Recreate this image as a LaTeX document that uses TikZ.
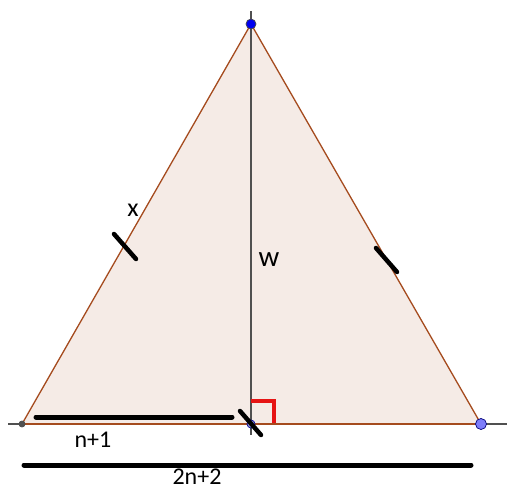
\documentclass[tikz,border=0pt]{standalone}
\usepackage{fontspec}
\setmainfont{Carlito}
\definecolor{tfill}{RGB}{245,235,230}
\definecolor{tedge}{RGB}{165,75,30}
\definecolor{lgray}{RGB}{80,80,80}
\definecolor{ptblue}{RGB}{0,0,240}
\definecolor{ptlight}{RGB}{125,125,250}
\definecolor{ptfoot}{RGB}{150,150,215}
\definecolor{ramark}{RGB}{230,20,20}
\begin{document}
\begin{tikzpicture}[x=1pt,y=-1pt,
  edge/.style={draw=tedge,line width=1.3pt},
  axis/.style={draw=lgray,line width=1.5pt},
  marker/.style={line width=5pt,line cap=round,black},
  tick/.style={line width=4.5pt,line cap=round,black},
  pt/.style={circle,inner sep=0pt,minimum size=#1,draw=black!70,line width=0.7pt},
  lab/.style={inner sep=0pt,font=\fontsize{#1}{#1}\selectfont}]
\useasboundingbox (0,0) rectangle (507,490);
\coordinate (A) at (251,24);
\coordinate (B) at (22,424);
\coordinate (C) at (481,424);
\coordinate (D) at (251,424);
\coordinate (L0) at (8,424);
\coordinate (L1) at (507,424);
\coordinate (V0) at (251,11);
\coordinate (V1) at (251,435);
% triangle fill
\fill[tfill] (A) -- (B) -- (C) -- cycle;
% base line and altitude
\draw[axis] (L0) -- (L1);
\draw[axis] (V0) -- (V1);
% sides
\draw[edge] (B) -- (A) -- (C);
\draw[edge] (B) -- (C);
% right angle mark
\coordinate (R1) at (251,401);
\coordinate (R2) at (274,401);
\coordinate (R3) at (274,423);
\draw[ramark,line width=3.5pt] (R1) -- (R2) -- (R3);
% marking segments
\coordinate (M0) at (36,417);
\coordinate (M1) at (232,417);
\draw[marker] (M0) -- (M1);
\coordinate (N0) at (24,465);
\coordinate (N1) at (471,465);
\draw[marker] (N0) -- (N1);
% points
\node[pt=10pt,fill=ptblue] (pA) at (A) {};
\node[pt=11pt,fill=ptlight,draw=ptblue!50!black] (pC) at (C) {};
\node[pt=6pt,fill=lgray] (pB) at (B) {};
\node[pt=8pt,fill=ptfoot,draw=ptblue!60!black] (pD) at (D) {};
% ticks
\coordinate (T0) at (114,234);
\coordinate (T1) at (136,259);
\draw[tick] (T0) -- (T1);
\coordinate (U0) at (376,248);
\coordinate (U1) at (397,272);
\draw[tick] (U0) -- (U1);
\coordinate (S0) at (240,411);
\coordinate (S1) at (261,435);
\draw[tick] (S0) -- (S1);
% labels
\node[lab=26] (lx) at (133,210) {x};
\node[lab=29] (lw) at (269,260) {w};
\node[lab=24] (ln) at (93,440) {n+1};
\node[lab=24] (l2) at (197,477) {2n+2};
\end{tikzpicture}
\end{document}
